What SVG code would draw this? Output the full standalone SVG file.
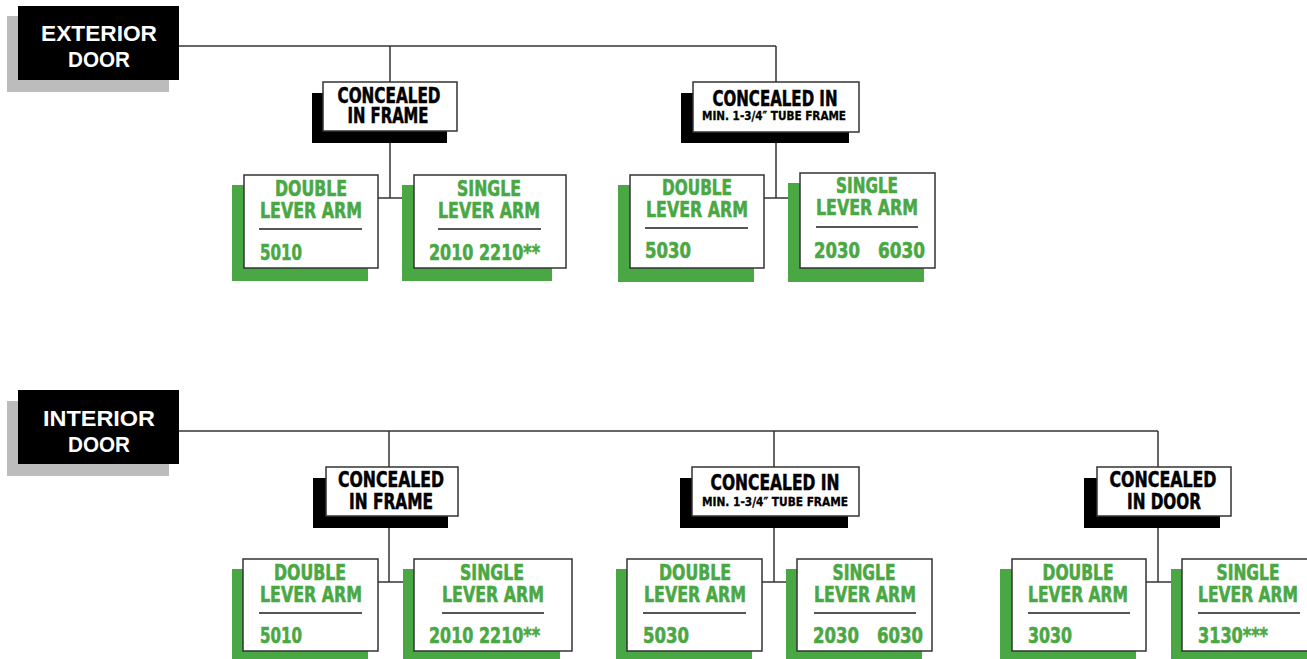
<svg xmlns="http://www.w3.org/2000/svg" width="1307" height="659" viewBox="0 0 1307 659">
<style>
.bg{fill:#ffffff}
.gray{fill:#bcbcbc}
.blk{fill:#000000}
.grn{fill:#4aa844}
.wbox{fill:#ffffff;stroke:#333333;stroke-width:1.5}
.con{fill:none;stroke:#333333;stroke-width:1.5}
.sep{stroke:#555555;stroke-width:2}
.hd{font-family:"Liberation Sans",Arial,sans-serif;font-weight:bold;font-size:22px;fill:#ffffff;text-anchor:middle}
.c1{font-family:"Liberation Sans Narrow","DejaVu Sans Condensed","Liberation Sans",sans-serif;font-weight:bold;font-size:21px;fill:#000000;stroke:#000000;stroke-width:0.5;text-anchor:middle}
.c2{font-family:"Liberation Sans Narrow","DejaVu Sans Condensed","Liberation Sans",sans-serif;font-weight:bold;font-size:12.5px;fill:#000000;stroke:#000000;stroke-width:0.3;text-anchor:middle}
.g{font-family:"Liberation Sans Narrow","DejaVu Sans Condensed","Liberation Sans",sans-serif;font-weight:bold;font-size:22px;fill:#4aa844;stroke:#4aa844;stroke-width:0.6;text-anchor:middle}
.n{font-family:"Liberation Sans Narrow","DejaVu Sans Condensed","Liberation Sans",sans-serif;font-weight:bold;font-size:22px;fill:#4aa844;stroke:#4aa844;stroke-width:0.6}
</style>
<rect class="bg" x="0" y="0" width="1307" height="659"/>

<g id="connectors">
  <polyline class="con" points="179,46 776,46"/>
  <line class="con" x1="390" y1="46" x2="390" y2="83"/>
  <line class="con" x1="776" y1="46" x2="776" y2="83"/>
  <polyline class="con" points="390,131 390,198"/>
  <line class="con" x1="377" y1="198" x2="405" y2="198"/>
  <polyline class="con" points="776,132 776,198"/>
  <line class="con" x1="763" y1="198" x2="790" y2="198"/>

  <polyline class="con" points="179,431 1158,431"/>
  <line class="con" x1="389" y1="431" x2="389" y2="468"/>
  <line class="con" x1="774" y1="431" x2="774" y2="468"/>
  <line class="con" x1="1158" y1="431" x2="1158" y2="468"/>
  <line class="con" x1="389" y1="516" x2="389" y2="582"/>
  <line class="con" x1="377" y1="582" x2="405" y2="582"/>
  <line class="con" x1="774" y1="516" x2="774" y2="582"/>
  <line class="con" x1="761" y1="582" x2="788" y2="582"/>
  <line class="con" x1="1158" y1="516" x2="1158" y2="582"/>
  <line class="con" x1="1145" y1="582" x2="1173" y2="582"/>
</g>

<!-- EXTERIOR -->
<g id="exterior-door">
  <rect class="gray" x="7" y="16" width="162" height="76"/>
  <rect class="blk" x="18" y="6" width="161" height="74"/>
  <text class="hd" x="99" y="41" textLength="116" lengthAdjust="spacingAndGlyphs">EXTERIOR</text>
  <text class="hd" x="99" y="67" textLength="62" lengthAdjust="spacingAndGlyphs">DOOR</text>
</g>

<g id="ext-concealed-frame">
  <rect class="blk" x="312" y="93" width="135" height="50"/>
  <rect class="wbox" x="323" y="82" width="134" height="49"/>
  <text class="c1" x="389" y="103" textLength="103" lengthAdjust="spacingAndGlyphs">CONCEALED</text>
  <text class="c1" x="388" y="123" textLength="81" lengthAdjust="spacingAndGlyphs">IN FRAME</text>
</g>

<g id="ext-frame-double">
  <rect class="grn" x="232" y="185" width="136" height="96"/>
  <rect class="wbox" x="244" y="175" width="134" height="93"/>
  <text class="g" x="311" y="196" textLength="72" lengthAdjust="spacingAndGlyphs">DOUBLE</text>
  <text class="g" x="311" y="218" textLength="102" lengthAdjust="spacingAndGlyphs">LEVER ARM</text>
  <line class="sep" x1="259" y1="229" x2="362" y2="229"/>
  <text class="n" x="260" y="260" textLength="42" lengthAdjust="spacingAndGlyphs">5010</text>
</g>

<g id="ext-frame-single">
  <rect class="grn" x="402" y="185" width="150" height="96"/>
  <rect class="wbox" x="414" y="175" width="152" height="93"/>
  <text class="g" x="489" y="196" textLength="64" lengthAdjust="spacingAndGlyphs">SINGLE</text>
  <text class="g" x="489" y="218" textLength="102" lengthAdjust="spacingAndGlyphs">LEVER ARM</text>
  <line class="sep" x1="438" y1="229" x2="541" y2="229"/>
  <text class="n" x="429" y="260" textLength="111" lengthAdjust="spacingAndGlyphs">2010 2210**</text>
</g>

<g id="ext-concealed-tube">
  <rect class="blk" x="681" y="93" width="168" height="50"/>
  <rect class="wbox" x="693" y="82" width="166" height="50"/>
  <text class="c1" x="775" y="106" textLength="125" lengthAdjust="spacingAndGlyphs">CONCEALED IN</text>
  <text class="c2" x="774" y="120" textLength="144" lengthAdjust="spacingAndGlyphs">MIN. 1-3/4″ TUBE FRAME</text>
</g>

<g id="ext-tube-double">
  <rect class="grn" x="618" y="185" width="136" height="97"/>
  <rect class="wbox" x="630" y="175" width="134" height="93"/>
  <text class="g" x="697" y="195" textLength="70" lengthAdjust="spacingAndGlyphs">DOUBLE</text>
  <text class="g" x="697" y="217" textLength="102" lengthAdjust="spacingAndGlyphs">LEVER ARM</text>
  <line class="sep" x1="645" y1="228" x2="748" y2="228"/>
  <text class="n" x="645" y="258" textLength="46" lengthAdjust="spacingAndGlyphs">5030</text>
</g>

<g id="ext-tube-single">
  <rect class="grn" x="788" y="183" width="136" height="99"/>
  <rect class="wbox" x="800" y="173" width="135" height="95"/>
  <text class="g" x="867" y="193" textLength="62" lengthAdjust="spacingAndGlyphs">SINGLE</text>
  <text class="g" x="867" y="215" textLength="102" lengthAdjust="spacingAndGlyphs">LEVER ARM</text>
  <line class="sep" x1="816" y1="227" x2="918" y2="227"/>
  <text class="n" x="814" y="258" textLength="46" lengthAdjust="spacingAndGlyphs">2030</text>
  <text class="n" x="878" y="258" textLength="47" lengthAdjust="spacingAndGlyphs">6030</text>
</g>

<!-- INTERIOR -->
<g id="interior-door">
  <rect class="gray" x="7" y="401" width="162" height="75"/>
  <rect class="blk" x="18" y="390" width="161" height="74"/>
  <text class="hd" x="99" y="426" textLength="112" lengthAdjust="spacingAndGlyphs">INTERIOR</text>
  <text class="hd" x="99" y="452" textLength="62" lengthAdjust="spacingAndGlyphs">DOOR</text>
</g>

<g id="int-concealed-frame">
  <rect class="blk" x="313" y="478" width="135" height="50"/>
  <rect class="wbox" x="326" y="467" width="132" height="49"/>
  <text class="c1" x="391" y="487" textLength="106" lengthAdjust="spacingAndGlyphs">CONCEALED</text>
  <text class="c1" x="391" y="509" textLength="84" lengthAdjust="spacingAndGlyphs">IN FRAME</text>
</g>

<g id="int-frame-double">
  <rect class="grn" x="232" y="569" width="136" height="92"/>
  <rect class="wbox" x="243" y="559" width="135" height="92"/>
  <text class="g" x="310" y="580" textLength="72" lengthAdjust="spacingAndGlyphs">DOUBLE</text>
  <text class="g" x="311" y="602" textLength="102" lengthAdjust="spacingAndGlyphs">LEVER ARM</text>
  <line class="sep" x1="259" y1="613" x2="362" y2="613"/>
  <text class="n" x="260" y="643" textLength="42" lengthAdjust="spacingAndGlyphs">5010</text>
</g>

<g id="int-frame-single">
  <rect class="grn" x="403" y="569" width="157" height="92"/>
  <rect class="wbox" x="414" y="559" width="158" height="92"/>
  <text class="g" x="492" y="580" textLength="64" lengthAdjust="spacingAndGlyphs">SINGLE</text>
  <text class="g" x="493" y="602" textLength="102" lengthAdjust="spacingAndGlyphs">LEVER ARM</text>
  <line class="sep" x1="442" y1="613" x2="544" y2="613"/>
  <text class="n" x="429" y="643" textLength="111" lengthAdjust="spacingAndGlyphs">2010 2210**</text>
</g>

<g id="int-concealed-tube">
  <rect class="blk" x="680" y="478" width="168" height="50"/>
  <rect class="wbox" x="692" y="467" width="167" height="49"/>
  <text class="c1" x="775" y="490" textLength="129" lengthAdjust="spacingAndGlyphs">CONCEALED IN</text>
  <text class="c2" x="775" y="506" textLength="146" lengthAdjust="spacingAndGlyphs">MIN. 1-3/4″ TUBE FRAME</text>
</g>

<g id="int-tube-double">
  <rect class="grn" x="616" y="569" width="136" height="92"/>
  <rect class="wbox" x="627" y="559" width="135" height="92"/>
  <text class="g" x="695" y="580" textLength="72" lengthAdjust="spacingAndGlyphs">DOUBLE</text>
  <text class="g" x="695" y="602" textLength="102" lengthAdjust="spacingAndGlyphs">LEVER ARM</text>
  <line class="sep" x1="643" y1="613" x2="746" y2="613"/>
  <text class="n" x="643" y="643" textLength="46" lengthAdjust="spacingAndGlyphs">5030</text>
</g>

<g id="int-tube-single">
  <rect class="grn" x="786" y="569" width="136" height="92"/>
  <rect class="wbox" x="797" y="559" width="135" height="92"/>
  <text class="g" x="864" y="580" textLength="63" lengthAdjust="spacingAndGlyphs">SINGLE</text>
  <text class="g" x="865" y="602" textLength="102" lengthAdjust="spacingAndGlyphs">LEVER ARM</text>
  <line class="sep" x1="814" y1="613" x2="916" y2="613"/>
  <text class="n" x="813" y="643" textLength="46" lengthAdjust="spacingAndGlyphs">2030</text>
  <text class="n" x="877" y="643" textLength="46" lengthAdjust="spacingAndGlyphs">6030</text>
</g>

<g id="int-concealed-door">
  <rect class="blk" x="1084" y="478" width="136" height="50"/>
  <rect class="wbox" x="1097" y="467" width="134" height="49"/>
  <text class="c1" x="1163" y="487" textLength="107" lengthAdjust="spacingAndGlyphs">CONCEALED</text>
  <text class="c1" x="1164" y="509" textLength="74" lengthAdjust="spacingAndGlyphs">IN DOOR</text>
</g>

<g id="int-door-double">
  <rect class="grn" x="1000" y="569" width="136" height="92"/>
  <rect class="wbox" x="1012" y="559" width="134" height="92"/>
  <text class="g" x="1078" y="580" textLength="71" lengthAdjust="spacingAndGlyphs">DOUBLE</text>
  <text class="g" x="1078" y="602" textLength="100" lengthAdjust="spacingAndGlyphs">LEVER ARM</text>
  <line class="sep" x1="1028" y1="613" x2="1130" y2="613"/>
  <text class="n" x="1028" y="643" textLength="44" lengthAdjust="spacingAndGlyphs">3030</text>
</g>

<g id="int-door-single">
  <rect class="grn" x="1171" y="569" width="140" height="92"/>
  <rect class="wbox" x="1182" y="559" width="135" height="92"/>
  <text class="g" x="1248" y="580" textLength="63" lengthAdjust="spacingAndGlyphs">SINGLE</text>
  <text class="g" x="1248" y="602" textLength="100" lengthAdjust="spacingAndGlyphs">LEVER ARM</text>
  <line class="sep" x1="1198" y1="613" x2="1300" y2="613"/>
  <text class="n" x="1198" y="643" textLength="70" lengthAdjust="spacingAndGlyphs">3130***</text>
</g>
</svg>
